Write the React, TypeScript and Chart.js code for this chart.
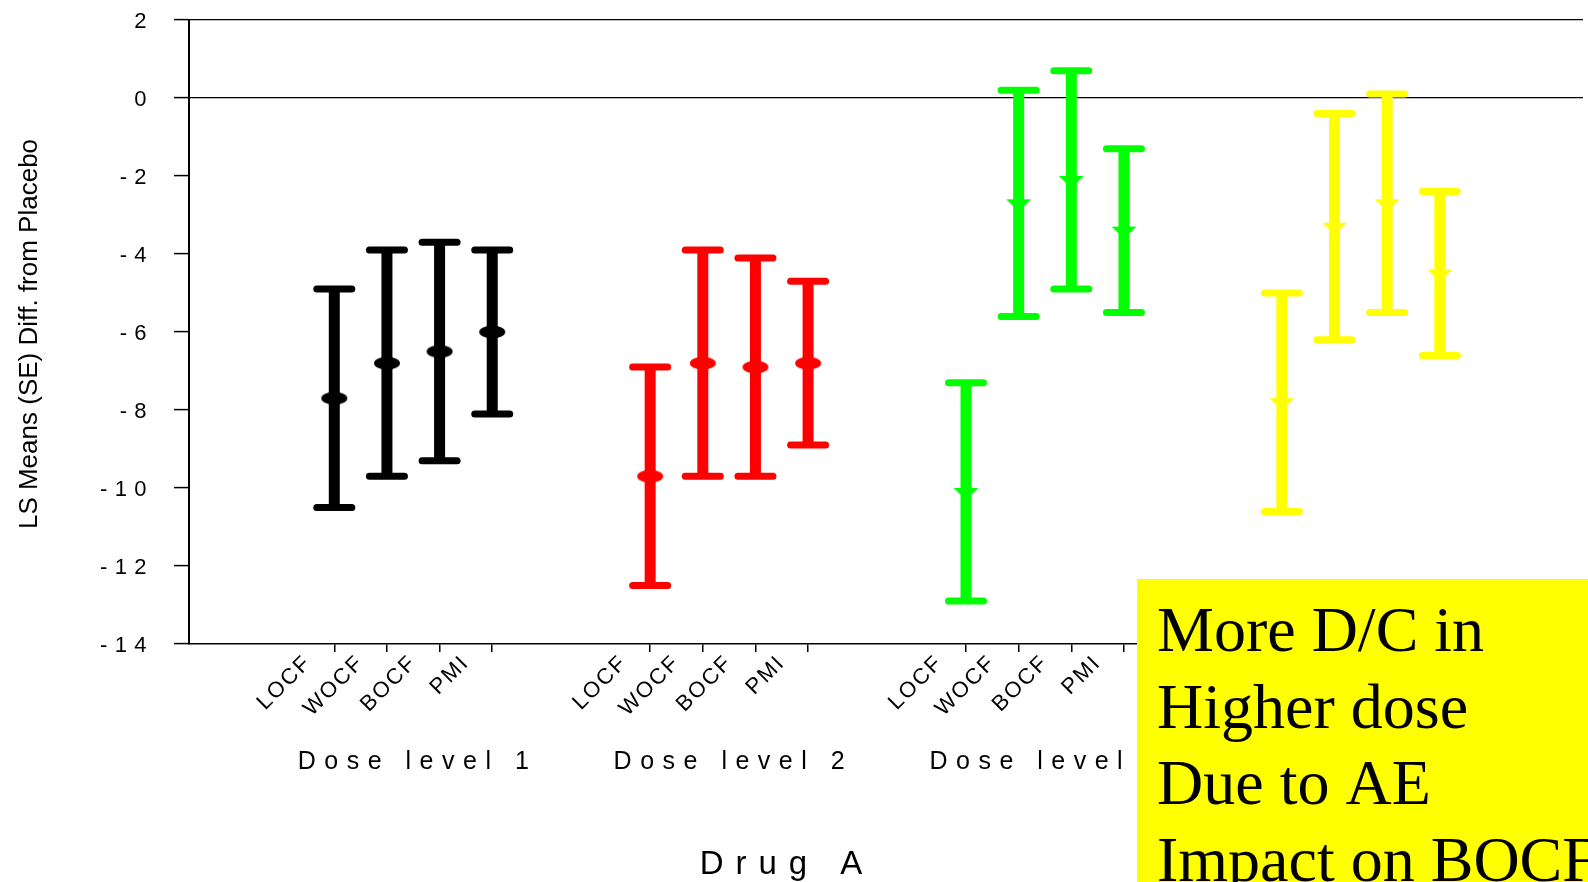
import { useEffect, useRef } from 'react';
import { Chart, registerables } from 'chart.js';

Chart.register(...registerables);

// Imputation methods shown within each dose level
const methods = ['LOCF', 'WOCF', 'BOCF', 'PMI'];
const doseLevels = ['Dose level 1', 'Dose level 2', 'Dose level 3', 'Dose level 4'];

// LS mean difference from placebo, per method
const dose1Means = [-7.7, -6.8, -6.5, -6.0];
const dose2Means = [-9.7, -6.8, -6.9, -6.8];
const dose3Means = [-10.1, -2.7, -2.1, -3.4];
const dose4Means = [-7.8, -3.3, -2.7, -4.5];

// Standard errors, per method
const dose1SE = [2.8, 2.9, 2.8, 2.1];
const dose2SE = [2.8, 2.9, 2.8, 2.1];
const dose3SE = [2.8, 2.9, 2.8, 2.1];
const dose4SE = [2.8, 2.9, 2.8, 2.1];

const yTickValues = [2, 0, -2, -4, -6, -8, -10, -12, -14];
const yAxisTitle = 'LS Means (SE) Diff. from Placebo';
const xAxisTitle = 'Drug A';
const noteLines = ['More D/C in', 'Higher dose', 'Due to AE', 'Impact on BOCF'];

const doseColors = ['#000000', '#ff0000', '#00ff00', '#ffff00'];
const doseMarkers = ['ellipse', 'ellipse', 'triangle', 'triangle'];

const allMeans = [dose1Means, dose2Means, dose3Means, dose4Means];
const allSE = [dose1SE, dose2SE, dose3SE, dose4SE];

// each dose level occupies 4 slots, followed by a 2-slot gap
const slotOf = (g: number, m: number) => g * 6 + m + 1;
const xPositions: number[] = [];
doseLevels.forEach((_, g) => methods.forEach((__, m) => xPositions.push(slotOf(g, m))));

const SANS = '"Liberation Sans", Arial, Helvetica, sans-serif';
const SERIF = '"Liberation Serif", "Times New Roman", serif';

function makeMarker(shape: string, color: string): HTMLCanvasElement {
  const c = document.createElement('canvas');
  const ctx = c.getContext('2d')!;
  if (shape === 'ellipse') {
    c.width = 28;
    c.height = 14;
    ctx.fillStyle = color;
    ctx.beginPath();
    ctx.ellipse(14, 7, 13, 6.5, 0, 0, Math.PI * 2);
    ctx.fill();
  } else {
    c.width = 26;
    c.height = 24;
    ctx.fillStyle = color;
    ctx.beginPath();
    ctx.moveTo(0.5, 8);
    ctx.lineTo(25.5, 8);
    ctx.lineTo(13, 20);
    ctx.closePath();
    ctx.fill();
  }
  return c;
}

// text with extra tracking between characters
function drawSpaced(
  ctx: CanvasRenderingContext2D,
  text: string,
  x: number,
  y: number,
  spacing: number,
  align: 'left' | 'center' | 'right'
) {
  const chars = Array.from(text);
  const widths = chars.map((ch) => ctx.measureText(ch).width);
  const total = widths.reduce((a, b) => a + b, 0) + spacing * (chars.length - 1);
  let cx = align === 'center' ? x - total / 2 : align === 'right' ? x - total : x;
  ctx.textAlign = 'left';
  chars.forEach((ch, i) => {
    ctx.fillText(ch, cx, y);
    cx += widths[i] + spacing;
  });
}

const errorBarPlugin = {
  id: 'errorBars',
  beforeDatasetsDraw(chart: any) {
    const ctx: CanvasRenderingContext2D = chart.ctx;
    const yScale = chart.scales.y;
    chart.data.datasets.forEach((ds: any, i: number) => {
      const meta = chart.getDatasetMeta(i);
      ctx.save();
      ctx.strokeStyle = ds.barColor;
      meta.data.forEach((pt: any, j: number) => {
        const mean = ds.data[j].y;
        const se = ds.se[j];
        const x = pt.x;
        const yTop = yScale.getPixelForValue(mean + se);
        const yBot = yScale.getPixelForValue(mean - se);
        ctx.lineCap = 'butt';
        ctx.lineWidth = 11;
        ctx.beginPath();
        ctx.moveTo(x, yTop);
        ctx.lineTo(x, yBot);
        ctx.stroke();
        ctx.lineCap = 'round';
        ctx.lineWidth = 7;
        [yTop, yBot].forEach((yy) => {
          ctx.beginPath();
          ctx.moveTo(x - 17.5, yy);
          ctx.lineTo(x + 17.5, yy);
          ctx.stroke();
        });
      });
      ctx.restore();
    });
  },
};

const annotationPlugin = {
  id: 'axisText',
  afterDraw(chart: any) {
    const ctx: CanvasRenderingContext2D = chart.ctx;
    const xScale = chart.scales.x;
    const yScale = chart.scales.y;
    ctx.save();
    ctx.fillStyle = '#000';

    // y tick labels
    ctx.font = `22px ${SANS}`;
    ctx.textBaseline = 'alphabetic';
    yTickValues.forEach((v) => {
      const label = String(v).split('').join(' ');
      drawSpaced(ctx, label, 146.5, yScale.getPixelForValue(v) + 8, 0.6, 'right');
    });

    // rotated method labels
    ctx.font = `22px ${SANS}`;
    xPositions.forEach((pos, k) => {
      const px = xScale.getPixelForValue(pos);
      ctx.save();
      ctx.translate(px - 29, 659.5);
      ctx.rotate(-Math.PI / 4);
      drawSpaced(ctx, methods[k % methods.length], 0, 7.9, 2, 'right');
      ctx.restore();
    });

    // dose level labels
    ctx.font = `25px ${SANS}`;
    doseLevels.forEach((name, g) => {
      const left = xScale.getPixelForValue(slotOf(g, 0));
      const right = xScale.getPixelForValue(slotOf(g, methods.length - 1));
      drawSpaced(ctx, name, (left + right) / 2, 769, 8.5, 'center');
    });

    // axis titles
    ctx.font = `33px ${SANS}`;
    drawSpaced(ctx, xAxisTitle, 781, 874, 12, 'center');

    ctx.font = `26px ${SANS}`;
    ctx.save();
    ctx.translate(37, 334);
    ctx.rotate(-Math.PI / 2);
    drawSpaced(ctx, yAxisTitle, 0, 0, 0, 'center');
    ctx.restore();

    // note box
    ctx.fillStyle = '#ffff00';
    ctx.fillRect(1137, 579, chart.width - 1137, chart.height - 579);
    ctx.fillStyle = '#000';
    ctx.font = `64px ${SERIF}`;
    ctx.textAlign = 'left';
    noteLines.forEach((line, i) => {
      ctx.fillText(line, 1157, 651 + i * 76.5);
    });
    ctx.restore();
  },
};

export default function App() {
  const canvasRef = useRef<HTMLCanvasElement | null>(null);

  useEffect(() => {
    if (!canvasRef.current) return;
    const datasets = doseLevels.map((name, g) => ({
      label: name,
      data: allMeans[g].map((y, m) => ({ x: slotOf(g, m), y })),
      se: allSE[g],
      barColor: doseColors[g],
      pointStyle: makeMarker(doseMarkers[g], doseColors[g]),
      backgroundColor: doseColors[g],
      borderColor: doseColors[g],
      showLine: false,
    }));

    const chart = new Chart(canvasRef.current, {
      type: 'scatter',
      data: { datasets } as any,
      options: {
        animation: false,
        responsive: false,
        devicePixelRatio: 1,
        layout: { padding: { top: 20, right: 0, bottom: 0, left: 0 } },
        plugins: {
          legend: { display: false },
          tooltip: { enabled: false },
        },
        scales: {
          x: {
            type: 'linear',
            min: -1.76,
            max: 24.72,
            afterBuildTicks: (s: any) => {
              s.ticks = xPositions.map((v) => ({ value: v }));
            },
            afterFit: (s: any) => {
              s.height = 238;
            },
            ticks: { display: false },
            grid: {
              drawOnChartArea: false,
              drawTicks: true,
              tickLength: 8,
              color: '#000',
              tickColor: '#000',
              tickWidth: 1.5,
              lineWidth: 1.5,
            },
            border: { display: true, color: '#000', width: 1.5 },
          },
          y: {
            type: 'linear',
            min: -14,
            max: 2,
            afterBuildTicks: (s: any) => {
              s.ticks = yTickValues.map((v) => ({ value: v }));
            },
            afterFit: (s: any) => {
              s.width = 189;
            },
            ticks: { display: false },
            grid: {
              color: (c: any) =>
                c.tick && (c.tick.value === 0 || c.tick.value === 2) ? '#000' : 'rgba(0,0,0,0)',
              tickColor: '#000',
              tickLength: 15,
              lineWidth: 1.2,
              tickWidth: 1.5,
            },
            border: { display: true, color: '#000', width: 2 },
          },
        },
      } as any,
      plugins: [errorBarPlugin, annotationPlugin],
    });
    return () => chart.destroy();
  }, []);

  return (
    <div
      style={{
        position: 'absolute',
        left: 0,
        top: 0,
        width: 1588,
        height: 882,
        overflow: 'hidden',
        background: '#fff',
      }}
    >
      <canvas ref={canvasRef} width={1588} height={882} style={{ display: 'block' }} />
    </div>
  );
}
